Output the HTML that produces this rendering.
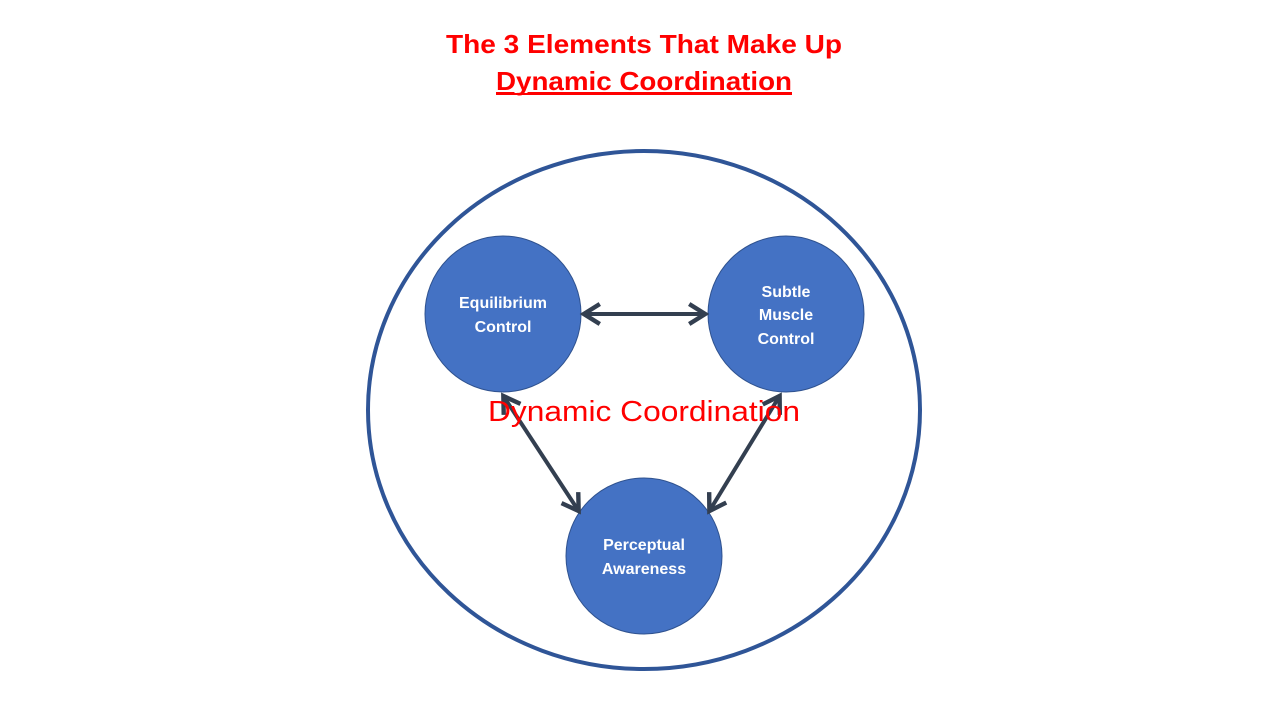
<!DOCTYPE html>
<html><head><meta charset="utf-8"><style>
html,body{margin:0;padding:0;background:#fff;width:1280px;height:720px;overflow:hidden}
</style></head><body>
<svg width="1280" height="720" xmlns="http://www.w3.org/2000/svg">
<defs>
<marker id="a" markerWidth="6" markerHeight="6" refX="4.2" refY="3" orient="auto-start-reverse" markerUnits="strokeWidth">
<path d="M0.5,0.5 L4.5,3 L0.5,5.5" fill="none" stroke="#333F50" stroke-width="1.1" stroke-linejoin="miter"/>
</marker>
</defs>
<text x="644" y="53" text-anchor="middle" font-family="Liberation Sans, sans-serif" font-weight="bold" font-size="26" fill="#FF0000" textLength="396" lengthAdjust="spacingAndGlyphs">The 3 Elements That Make Up</text>
<text x="644" y="90" text-anchor="middle" font-family="Liberation Sans, sans-serif" font-weight="bold" font-size="26" fill="#FF0000" text-decoration="underline" textLength="296" lengthAdjust="spacingAndGlyphs">Dynamic Coordination</text>
<line x1="496" y1="94" x2="792" y2="94" stroke="#FF0000" stroke-width="2"/>
<ellipse cx="644" cy="410" rx="276" ry="259" fill="none" stroke="#2F5597" stroke-width="4"/>
<circle cx="503" cy="314" r="78" fill="#4472C4" stroke="#2F528F" stroke-width="1"/>
<circle cx="786" cy="314" r="78" fill="#4472C4" stroke="#2F528F" stroke-width="1"/>
<circle cx="644" cy="556" r="78" fill="#4472C4" stroke="#2F528F" stroke-width="1"/>
<g stroke="#333F50" stroke-width="4" fill="none">
<line x1="585" y1="314" x2="704" y2="314" marker-start="url(#a)" marker-end="url(#a)"/>
<line x1="504" y1="397" x2="578" y2="510" marker-start="url(#a)" marker-end="url(#a)"/>
<line x1="779" y1="397" x2="710" y2="510" marker-start="url(#a)" marker-end="url(#a)"/>
</g>
<g font-family="Liberation Sans, sans-serif" font-weight="bold" font-size="16" fill="#fff" text-anchor="middle">
<text x="503" y="308">Equilibrium</text>
<text x="503" y="332">Control</text>
<text x="786" y="297">Subtle</text>
<text x="786" y="320">Muscle</text>
<text x="786" y="344">Control</text>
<text x="644" y="550">Perceptual</text>
<text x="644" y="574">Awareness</text>
</g>
<text x="644" y="421" text-anchor="middle" font-family="Liberation Sans, sans-serif" font-size="29" fill="#FF0000" textLength="312" lengthAdjust="spacingAndGlyphs">Dynamic Coordination</text>
</svg>
</body></html>
